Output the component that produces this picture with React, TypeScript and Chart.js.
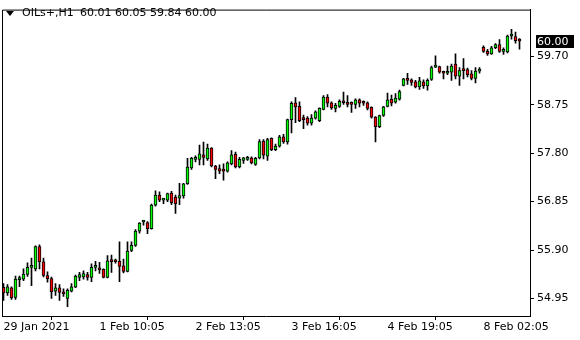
import React, { useEffect, useRef } from 'react';
import { Chart, registerables } from 'chart.js';

Chart.register(...registerables);

const FONT = 'DejaVu Sans';
const SYMBOL = 'OILs+,H1';

const opens = [
  55.17, 55.06, 55.16, 54.97, 55.32, 55.33, 55.42, 55.56, 55.53, 55.97,
  55.67, 55.40, 55.34, 55.09, 55.16, 55.08, 54.95, 55.09, 55.17, 55.36,
  55.37, 55.42, 55.36, 55.56, 55.55, 55.52, 55.36, 55.71, 55.68, 55.68,
  55.59, 55.48, 55.89, 55.99, 56.27, 56.45, 56.44, 56.32, 56.78, 56.98,
  56.88, 56.88, 57.02, 56.94, 56.92, 56.96, 57.20, 57.51, 57.68, 57.68,
  57.77, 57.69, 57.90, 57.55, 57.50, 57.48, 57.45, 57.59, 57.78, 57.53,
  57.66, 57.68, 57.71, 57.58, 57.71, 58.04, 57.74, 58.09, 57.87, 57.94,
  58.12, 58.02, 58.46, 58.79, 58.72, 58.49, 58.49, 58.39, 58.49, 58.44,
  58.66, 58.90, 58.79, 58.68, 58.72, 58.82, 58.79, 58.79, 58.76, 58.85,
  58.80, 58.79, 58.70, 58.51, 58.32, 58.54, 58.72, 58.86, 58.80, 58.86,
  59.13, 59.26, 59.24, 59.20, 59.10, 59.20, 59.12, 59.25, 59.49, 59.50,
  59.38, 59.37, 59.39, 59.55, 59.31, 59.43, 59.44, 59.36, 59.27, 59.41,
  59.88, 59.80, 59.75, 59.87, 59.93, 59.80, 59.79, 60.10, 60.09, 60.01,
];
const highs = [
  55.24, 55.22, 55.18, 55.39, 55.39, 55.53, 55.65, 55.74, 55.98, 56.00,
  55.74, 55.47, 55.37, 55.24, 55.22, 55.14, 55.14, 55.24, 55.41, 55.46,
  55.49, 55.46, 55.63, 55.68, 55.66, 55.53, 55.79, 55.80, 55.72, 56.06,
  55.72, 56.06, 56.06, 56.30, 56.44, 56.48, 56.46, 56.80, 57.06, 57.04,
  56.91, 57.02, 57.05, 56.98, 57.21, 57.21, 57.70, 57.72, 57.75, 57.96,
  58.02, 57.98, 57.91, 57.56, 57.57, 57.59, 57.63, 57.85, 57.82, 57.72,
  57.72, 57.74, 57.73, 57.72, 58.07, 58.07, 58.09, 58.10, 57.98, 58.15,
  58.17, 58.47, 58.81, 58.89, 58.81, 58.55, 58.52, 58.56, 58.63, 58.69,
  58.93, 58.95, 58.81, 58.78, 58.85, 59.00, 58.93, 58.81, 58.87, 58.87,
  58.83, 58.81, 58.71, 58.52, 58.55, 58.72, 58.98, 58.94, 58.97, 59.04,
  59.27, 59.37, 59.26, 59.23, 59.29, 59.24, 59.26, 59.51, 59.71, 59.51,
  59.41, 59.51, 59.55, 59.75, 59.48, 59.66, 59.47, 59.42, 59.48, 59.48,
  59.91, 59.84, 59.90, 59.95, 60.03, 59.87, 60.12, 60.23, 60.18, 60.05,
];
const lows = [
  54.91, 55.01, 54.93, 54.93, 55.18, 55.30, 55.38, 55.20, 55.49, 55.53,
  55.37, 55.27, 54.95, 55.01, 54.91, 54.99, 54.79, 55.08, 55.16, 55.30,
  55.33, 55.31, 55.28, 55.49, 55.44, 55.35, 55.35, 55.46, 55.64, 55.28,
  55.45, 55.47, 55.87, 55.97, 56.23, 56.39, 56.22, 56.31, 56.76, 56.85,
  56.81, 56.85, 56.79, 56.62, 56.79, 56.92, 57.19, 57.48, 57.63, 57.57,
  57.57, 57.66, 57.53, 57.30, 57.40, 57.27, 57.43, 57.57, 57.51, 57.51,
  57.60, 57.66, 57.59, 57.56, 57.69, 57.69, 57.66, 57.85, 57.85, 57.92,
  57.99, 57.98, 58.20, 58.40, 58.42, 58.28, 58.35, 58.35, 58.47, 58.42,
  58.65, 58.71, 58.66, 58.61, 58.70, 58.76, 58.71, 58.60, 58.68, 58.71,
  58.74, 58.65, 58.49, 58.02, 58.30, 58.52, 58.71, 58.73, 58.78, 58.84,
  59.12, 59.15, 59.13, 59.08, 59.05, 59.07, 59.04, 59.23, 59.48, 59.37,
  59.26, 59.34, 59.23, 59.26, 59.13, 59.26, 59.30, 59.24, 59.18, 59.37,
  59.78, 59.72, 59.74, 59.85, 59.78, 59.74, 59.77, 60.04, 59.96, 59.84,
];
const closes = [
  55.06, 55.18, 54.96, 55.33, 55.33, 55.43, 55.56, 55.57, 55.97, 55.67,
  55.40, 55.34, 55.08, 55.16, 55.07, 55.04, 55.11, 55.18, 55.39, 55.42,
  55.44, 55.36, 55.56, 55.57, 55.51, 55.36, 55.69, 55.67, 55.67, 55.58,
  55.48, 55.88, 55.99, 56.27, 56.43, 56.46, 56.32, 56.78, 56.98, 56.88,
  56.89, 57.01, 56.83, 56.81, 56.97, 57.20, 57.53, 57.70, 57.71, 57.79,
  57.72, 57.90, 57.55, 57.48, 57.45, 57.45, 57.61, 57.77, 57.53, 57.68,
  57.71, 57.72, 57.61, 57.70, 58.03, 57.76, 58.07, 57.87, 57.94, 58.12,
  58.02, 58.46, 58.78, 58.71, 58.44, 58.46, 58.39, 58.49, 58.61, 58.68,
  58.90, 58.78, 58.69, 58.74, 58.82, 58.79, 58.76, 58.76, 58.85, 58.78,
  58.78, 58.68, 58.51, 58.32, 58.54, 58.71, 58.85, 58.78, 58.88, 59.01,
  59.26, 59.23, 59.19, 59.10, 59.22, 59.12, 59.23, 59.48, 59.50, 59.39,
  59.37, 59.38, 59.51, 59.31, 59.42, 59.42, 59.34, 59.27, 59.41, 59.42,
  59.80, 59.75, 59.87, 59.93, 59.80, 59.81, 60.10, 60.11, 60.01, 60.00,
];

const xTickIndex = [0, 24, 48, 72, 96, 120];
const xTickLabels = ['29 Jan 2021', '1 Feb 10:05', '2 Feb 13:05', '3 Feb 16:05', '4 Feb 19:05', '8 Feb 02:05'];
const yTicks = [54.95, 55.9, 56.85, 57.8, 58.75, 59.7];
const Y_MIN = 54.605;
const Y_MAX = 60.619;
const X_MIN = -0.375;
const X_MAX = 131.625;

const BULL = '#00ff00';
const BEAR = '#ff0000';

export default function App() {
  const ref = useRef<HTMLCanvasElement>(null);

  useEffect(() => {
    const canvas = ref.current!;
    const last = closes[closes.length - 1];

    const framePlugin = {
      id: 'frameAndPrice',
      afterDraw(chart: any) {
        const { ctx, chartArea: a } = chart;
        ctx.save();
        ctx.strokeStyle = '#000';
        ctx.lineWidth = 1;
        ctx.beginPath();
        ctx.moveTo(a.left + 0.5, a.bottom);
        ctx.lineTo(a.left + 0.5, a.top + 0.5);
        ctx.lineTo(a.right, a.top + 0.5);
        ctx.stroke();
        const py = Math.round(chart.scales.y.getPixelForValue(last));
        ctx.fillStyle = '#000';
        ctx.fillRect(a.right + 6, py - 6, 38, 13);
        ctx.fillStyle = '#fff';
        ctx.font = `11px "${FONT}"`;
        ctx.textBaseline = 'middle';
        ctx.textAlign = 'left';
        ctx.fillText(last.toFixed(2), a.right + 7, py + 1);
        ctx.restore();
      },
    };

    const chart = new Chart(canvas, {
      type: 'bar',
      data: {
        datasets: [
          {
            label: 'wick',
            data: opens.map((_, i) => ({ x: i, y: [lows[i], highs[i]] })) as any,
            backgroundColor: '#000',
            borderWidth: 0,
            barThickness: 1,
            grouped: false,
            order: 2,
          } as any,
          {
            label: 'body',
            data: opens.map((o, i) => ({ x: i, y: [o, closes[i]] })) as any,
            backgroundColor: opens.map((o, i) => (closes[i] >= o ? BULL : BEAR)),
            borderColor: '#000',
            borderWidth: 1,
            borderSkipped: false,
            barThickness: 3,
            minBarLength: 2,
            grouped: false,
            order: 1,
          } as any,
        ],
      },
      options: {
        responsive: false,
        animation: false,
        devicePixelRatio: 1,
        layout: { padding: { left: 2, top: 2, right: 0, bottom: 0 } },
        plugins: {
          legend: { display: false },
          tooltip: { enabled: false },
          title: { display: false },
        },
        scales: {
          x: {
            type: 'linear',
            position: 'bottom',
            min: X_MIN,
            max: X_MAX,
            offset: false,
            grid: {
              display: true,
              drawOnChartArea: false,
              drawTicks: true,
              tickLength: 4,
              color: '#000',
              lineWidth: 1,
            },
            border: { display: true, color: '#000', width: 1 },
            ticks: {
              autoSkip: false,
              maxRotation: 0,
              minRotation: 0,
              align: 'start',
              padding: 1,
              color: '#000',
              font: { family: FONT, size: 11 },
              callback: (v: any) => {
                const k = xTickIndex.indexOf(Number(v));
                return k >= 0 ? xTickLabels[k] : '';
              },
            },
            afterBuildTicks: (s: any) => {
              s.ticks = xTickIndex.map((v) => ({ value: v }));
            },
            afterFit: (s: any) => {
              s.height = 24;
            },
          } as any,
          y: {
            type: 'linear',
            position: 'right',
            min: Y_MIN,
            max: Y_MAX,
            grid: {
              display: true,
              drawOnChartArea: false,
              drawTicks: true,
              tickLength: 4,
              color: '#000',
              lineWidth: 1,
            },
            border: { display: true, color: '#000', width: 1 },
            ticks: {
              padding: 3,
              color: '#000',
              font: { family: FONT, size: 11 },
              callback: (v: any) => Number(v).toFixed(2),
            },
            afterBuildTicks: (s: any) => {
              s.ticks = yTicks.map((v) => ({ value: v }));
            },
            afterFit: (s: any) => {
              s.width = 50;
            },
          } as any,
        },
      },
      plugins: [framePlugin],
    });

    return () => chart.destroy();
  }, []);

  const o = opens[opens.length - 1];
  const h = highs[highs.length - 1];
  const l = lows[lows.length - 1];
  const c = closes[closes.length - 1];

  return (
    <div style={{ position: 'fixed', left: 0, top: 0, width: 580, height: 340, background: '#fff' }}>
      <canvas ref={ref} width={580} height={340} style={{ width: 580, height: 340, display: 'block' }} />
      <div
        style={{
          position: 'absolute',
          left: 6,
          top: 11,
          width: 0,
          height: 0,
          borderLeft: '4px solid transparent',
          borderRight: '4px solid transparent',
          borderTop: '5px solid #000',
        }}
      />
      <div
        style={{
          position: 'absolute',
          left: 22,
          top: 6,
          font: `11px "${FONT}"`,
          lineHeight: '13px',
          color: '#000',
          whiteSpace: 'pre',
        }}
      >
        {SYMBOL}
      </div>
      <div
        style={{
          position: 'absolute',
          left: 80,
          top: 6,
          font: `11px "${FONT}"`,
          lineHeight: '13px',
          color: '#000',
          whiteSpace: 'pre',
        }}
      >
        {`${o.toFixed(2)} ${h.toFixed(2)} ${l.toFixed(2)} ${c.toFixed(2)}`}
      </div>
    </div>
  );
}
